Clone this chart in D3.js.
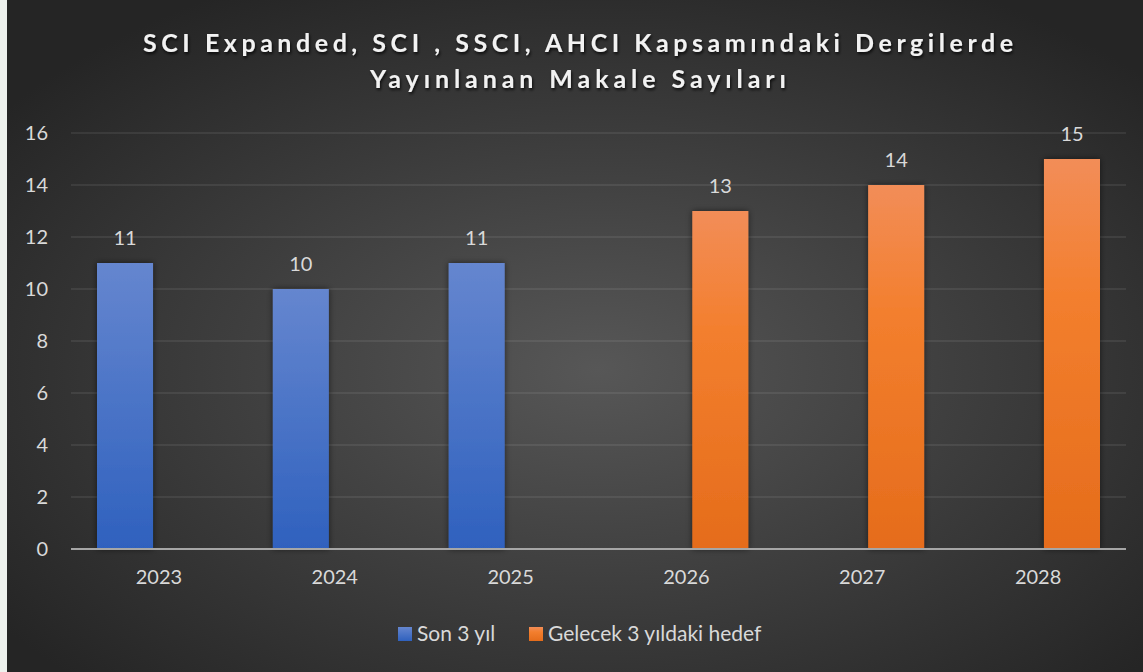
<!DOCTYPE html>
<html>
<head>
<meta charset="utf-8">
<script src="https://cdn.jsdelivr.net/npm/d3@7"></script>
<style>
  html, body { margin: 0; padding: 0; background: #eef2ee; }
  svg { display: block; }
  text { font-family: Lato, "Open Sans", sans-serif; }
</style>
</head>
<body>
<div id="chart"></div>
<script>
// data
var years = ["2023", "2024", "2025", "2026", "2027", "2028"];
var seriesNames = ["Son 3 yıl", "Gelecek 3 yıldaki hedef"];
var sonValues = [11, 10, 11, null, null, null];
var hedefValues = [null, null, null, 13, 14, 15];
var yTicks = [0, 2, 4, 6, 8, 10, 12, 14, 16];
var titleLines = ["SCI Expanded, SCI , SSCI, AHCI Kapsamındaki Dergilerde", "Yayınlanan Makale Sayıları"];

var width = 1143, height = 672;
var plotLeft = 71, plotRight = 1126, plotTop = 133, plotBottom = 549;

var svg = d3.select("#chart").append("svg")
    .attr("width", width)
    .attr("height", height);

var defs = svg.append("defs");
var bg = defs.append("radialGradient").attr("id", "bg")
    .attr("cx", "52%").attr("cy", "55%").attr("r", "65%");
bg.append("stop").attr("offset", "0%").attr("stop-color", "#575757");
bg.append("stop").attr("offset", "100%").attr("stop-color", "#252525");

var gBlue = defs.append("linearGradient").attr("id", "gblue")
    .attr("x1", 0).attr("y1", 0).attr("x2", 0).attr("y2", 1);
gBlue.append("stop").attr("offset", "0%").attr("stop-color", "#6586cf");
gBlue.append("stop").attr("offset", "100%").attr("stop-color", "#2f61be");
var gOrange = defs.append("linearGradient").attr("id", "gorange")
    .attr("x1", 0).attr("y1", 0).attr("x2", 0).attr("y2", 1);
gOrange.append("stop").attr("offset", "0%").attr("stop-color", "#f28d58");
gOrange.append("stop").attr("offset", "35%").attr("stop-color", "#f37f2e");
gOrange.append("stop").attr("offset", "100%").attr("stop-color", "#e56c1b");

var shadow = defs.append("filter").attr("id", "shadow")
    .attr("x", "-30%").attr("y", "-10%").attr("width", "160%").attr("height", "120%");
shadow.append("feDropShadow").attr("dx", 0).attr("dy", 0)
    .attr("stdDeviation", 3).attr("flood-color", "#000").attr("flood-opacity", 0.55);

var tshadow = defs.append("filter").attr("id", "tshadow")
    .attr("x", "-5%").attr("y", "-30%").attr("width", "110%").attr("height", "160%");
tshadow.append("feDropShadow").attr("dx", 1).attr("dy", 2)
    .attr("stdDeviation", 1.5).attr("flood-color", "#000").attr("flood-opacity", 0.8);

svg.append("rect").attr("x", 7).attr("y", 0)
    .attr("width", width - 7).attr("height", height)
    .attr("fill", "url(#bg)");

// title
var titleWidths = [870, 416];
svg.append("g").attr("filter", "url(#tshadow)")
  .selectAll("text").data(titleLines).enter().append("text")
    .attr("x", 578)
    .attr("y", function(d, i){ return 52 + i * 36; })
    .attr("text-anchor", "middle")
    .attr("font-size", "25px")
    .attr("font-weight", "bold")
    .attr("fill", "#f2f2f2")
    .attr("textLength", function(d, i){ return titleWidths[i]; })
    .attr("lengthAdjust", "spacing")
    .text(function(d){ return d; });

// scales
var y = d3.scaleLinear().domain([0, 16]).range([plotBottom, plotTop]);
var x0 = d3.scaleBand().domain(years).range([plotLeft, plotRight]).padding(0);
var x1 = d3.scaleBand().domain(seriesNames)
    .range([26, x0.bandwidth() - 26])
    .paddingInner(0.174).paddingOuter(0);

// gridlines
svg.append("g").selectAll("line").data(yTicks.slice(1)).enter().append("line")
    .attr("x1", plotLeft).attr("x2", plotRight)
    .attr("y1", function(d){ return y(d); })
    .attr("y2", function(d){ return y(d); })
    .attr("stroke", "#ffffff").attr("stroke-opacity", 0.1)
    .attr("stroke-width", 1.5);

// y axis
var yAxis = svg.append("g")
    .attr("transform", "translate(" + 48 + ",0)")
    .call(d3.axisLeft(y).tickValues(yTicks).tickSize(0).tickPadding(0));
yAxis.select(".domain").remove();
yAxis.selectAll("text")
    .attr("font-size", "20px").attr("fill", "#d9d9d9")
    .style("font-family", "Lato, sans-serif");

// x axis
var xAxis = svg.append("g")
    .attr("transform", "translate(0," + plotBottom + ")")
    .call(d3.axisBottom(x0).tickSize(0).tickPadding(21));
xAxis.select(".domain").remove();
xAxis.selectAll("text")
    .attr("font-size", "20px").attr("fill", "#d9d9d9")
    .style("font-family", "Lato, sans-serif");

// bars
var rows = years.map(function(yr, i){
    return [
        {year: yr, key: seriesNames[0], value: sonValues[i], fill: "url(#gblue)"},
        {year: yr, key: seriesNames[1], value: hedefValues[i], fill: "url(#gorange)"}
    ].filter(function(d){ return d.value != null; });
});
var flat = [].concat.apply([], rows);

svg.append("g").attr("filter", "url(#shadow)")
  .selectAll("rect").data(flat).enter().append("rect")
    .attr("x", function(d){ return x0(d.year) + x1(d.key); })
    .attr("y", function(d){ return y(d.value); })
    .attr("width", x1.bandwidth())
    .attr("height", function(d){ return y(0) - y(d.value); })
    .attr("fill", function(d){ return d.fill; });

// baseline
svg.append("line")
    .attr("x1", plotLeft).attr("x2", plotRight)
    .attr("y1", y(0)).attr("y2", y(0))
    .attr("stroke", "#a6a6a6").attr("stroke-width", 2);

// value labels
svg.append("g").selectAll("text").data(flat).enter().append("text")
    .attr("x", function(d){ return x0(d.year) + x1(d.key) + x1.bandwidth() / 2; })
    .attr("y", function(d){ return y(d.value) - 18; })
    .attr("text-anchor", "middle")
    .attr("font-size", "20px")
    .attr("fill", "#d9d9d9")
    .text(function(d){ return d.value; });

// legend
var legend = [
    {name: seriesNames[0], fill: "url(#gblue)", x: 398},
    {name: seriesNames[1], fill: "url(#gorange)", x: 529}
];
var lg = svg.append("g").selectAll("g").data(legend).enter().append("g")
    .attr("transform", function(d){ return "translate(" + d.x + ",627)"; });
lg.append("rect").attr("width", 14).attr("height", 14)
    .attr("fill", function(d){ return d.fill; });
lg.append("text").attr("x", 19).attr("y", 14)
    .attr("font-size", "21px").attr("fill", "#d9d9d9")
    .text(function(d){ return d.name; });
</script>
</body>
</html>
